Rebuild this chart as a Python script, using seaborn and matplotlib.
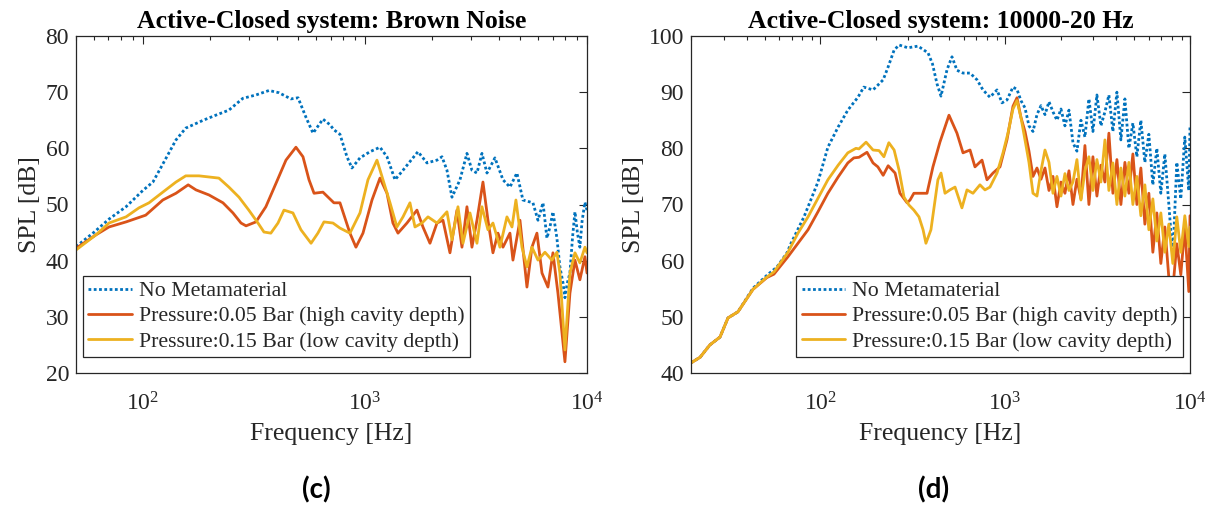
import numpy as np
import pandas as pd
import matplotlib
matplotlib.use("Agg")
import matplotlib.pyplot as plt
from matplotlib.ticker import LogLocator, LogFormatterSciNotation, NullFormatter, MultipleLocator
import seaborn as sns

# ---------------- Panel (c): Brown noise ----------------
c_blue_f = [50, 60, 70.4, 84, 100, 111, 123, 141, 156, 187, 213, 244, 282, 323, 370, 410, 464, 500,
            543, 584, 647, 696, 725, 772, 830, 874, 950, 1054, 1169, 1257, 1366, 1484, 1645, 1733,
            1903, 2111, 2223, 2341, 2466, 2679, 2880, 3033, 3195, 3365, 3545, 3850, 4184, 4498, 4835,
            5146, 5709, 6015, 6337, 6600, 6811, 7025, 7320, 7550, 7800, 7955, 8150, 8377, 8600, 8825,
            9050, 9290, 9500, 9787, 10000]
c_blue_db = [42.5, 45, 47.4, 49.6, 52.5, 54, 57.2, 61.5, 63.6, 65, 65.9, 66.8, 68.9, 69.5, 70.3, 69.9,
             68.8, 69, 65.5, 62.7, 65.2, 64.2, 63.3, 62.5, 58.5, 56.5, 58.3, 59.4, 60.2, 58.5, 54.4,
             56.1, 58.3, 59.4, 57.4, 57.9, 58.5, 56.1, 51.3, 54.4, 59.1, 56.1, 55.6, 59.1, 55.6, 58.3,
             54.4, 53.1, 55.6, 50.8, 50.3, 47.2, 50.3, 44, 46, 48.7, 44, 38.9, 36, 33.4, 36, 37.8, 44,
             48.7, 45, 42.4, 47, 50.4, 49]

c_red_f = [50, 61.5, 70.4, 84, 103, 123, 141, 160, 173.5, 198.5, 229.5, 254.5, 276.7, 291.5, 323, 358,
           398, 441, 489, 526, 560, 590, 647, 725, 772, 856, 911, 980, 1076, 1169, 1257, 1337, 1409,
           1546, 1715, 1825, 1963, 2111, 2246, 2415, 2597, 2735, 2880, 3033, 3195, 3400, 3581, 3771,
           3972, 4184, 4498, 4640, 4990, 5365, 5650, 5950, 6270, 6670, 7025, 7400, 7955, 8377, 8825,
           9290, 9787, 10000]
c_red_db = [42.2, 44.6, 46, 46.9, 48.1, 50.8, 52, 53.5, 52.6, 51.7, 50.3, 48.5, 46.7, 46.2, 46.9, 49.6,
            53.8, 57.9, 60.2, 58.5, 54.4, 52, 52.2, 50.3, 50.3, 44.9, 42.4, 44.9, 50.8, 54.7, 52, 46.7,
            44.9, 46.7, 49, 46, 43.1, 46.7, 47.2, 41.4, 49, 42.4, 49.6, 42.4, 47.2, 54, 47.2, 41.4,
            44.9, 42.4, 44.9, 40.1, 47.2, 35.3, 42.4, 44.9, 37.8, 35.3, 41.4, 34.2, 22, 34.2, 40.1,
            36.6, 40.7, 37.8]

c_yel_f = [50, 61.5, 70.4, 84, 96, 106.6, 123, 141, 156, 179, 198.5, 220, 244, 271, 300, 330, 351, 377,
           406, 432, 474, 515, 572, 614, 654, 718, 772, 856, 950, 1032, 1133, 1206, 1297, 1393, 1484,
           1595, 1680, 1807, 1923, 2111, 2341, 2466, 2624, 2764, 2972, 3195, 3365, 3581, 3771, 4055,
           4360, 4594, 4786, 5095, 5365, 5650, 6015, 6466, 6951, 7320, 7550, 7955, 8377, 8825, 9290,
           9787, 10000]
c_yel_db = [41.9, 44.6, 46.7, 47.8, 49.4, 50.3, 52.2, 54, 55.1, 55.1, 54.9, 54.7, 53.1, 51.3, 49, 46.7,
            45.1, 44.9, 46.7, 49, 48.5, 45.5, 43.1, 44.9, 46.9, 46.7, 45.8, 44.9, 48.5, 54.4, 57.9,
            54.4, 50.3, 46, 47.8, 50.3, 46, 46.7, 47.8, 46.7, 48.7, 43.7, 49.6, 43.1, 48.5, 43.1, 49.6,
            45.5, 46.7, 42.4, 47.8, 46, 50.8, 42.4, 38.9, 42.4, 40.1, 41.5, 40.1, 41.5, 37.8, 24.1,
            37.8, 41.4, 39.6, 42.4, 41.4]

# ---------------- Panel (d): 10000-20 Hz sweep ----------------
# low band (20 Hz - 1 kHz), one list per measurement
d_blue_f_low = [20, 22.4, 25.3, 28.7, 31.7, 35.9, 43.3, 51.5, 58.4, 66.1, 69.5, 81.7, 97.2, 110, 125,
                141, 160, 172, 193, 219, 233, 251, 267, 298, 338, 383, 405, 428, 450, 485, 516, 549,
                592, 646, 705, 759, 828, 904, 962, 1023]
d_blue_db_low = [41.8, 42.8, 45, 46.4, 49.8, 50.9, 55.1, 57.4, 58.9, 61.4, 63.1, 67.8, 74, 80.2, 83.8,
                 86.8, 89.1, 90.9, 90.4, 92.2, 94.5, 97.5, 98.4, 97.9, 98.2, 97, 95, 91.5, 89.3, 94,
                 96.3, 93.9, 93.4, 93.4, 92.2, 90.4, 89.1, 90.4, 88.1, 88.6]

d_red_f_low = [20, 22.4, 25.3, 28.7, 31.7, 35.9, 43.3, 51.5, 56.2, 66.9, 75.8, 85.9, 97.2, 110, 125,
               141, 152, 162, 179, 193, 205, 219, 233, 254, 270, 295, 306, 321, 346, 378, 407, 444,
               497, 549, 592, 646, 687, 750, 798, 860, 938, 1023]
d_red_db_low = [41.8, 42.8, 45, 46.4, 49.8, 50.9, 54.9, 57, 57.6, 60.7, 63.1, 65.5, 68.7, 72, 74.9,
                77.4, 78.3, 78.4, 79.3, 77.4, 76.7, 75.2, 76.9, 75.6, 72, 70.3, 70.8, 72, 72, 72,
                76.7, 81.1, 85.9, 82.7, 79.2, 79.7, 76.7, 77.9, 74.4, 75.6, 76.7, 81.5]

d_yel_f_low = [20, 22.4, 25.3, 28.7, 31.7, 35.9, 43.3, 51.5, 56.2, 66.9, 75.8, 85.9, 97.2, 110, 125,
               141, 156, 162, 177, 193, 208, 221, 235, 251, 267, 284, 302, 321, 342, 360, 373, 397,
               433, 450, 473, 503, 536, 584, 622, 670, 731, 778, 828, 904, 974, 1036]
d_yel_db_low = [41.8, 42.8, 45, 46.4, 49.8, 50.9, 54.9, 57.1, 58, 61.5, 64.9, 67.8, 71.1, 74.4, 77,
                79.2, 80, 79.9, 81.1, 79.7, 79.6, 78.5, 81, 79.7, 76.1, 71.3, 69.9, 69, 67.8, 65.5,
                63.1, 65.5, 74.4, 75.6, 72, 72.6, 73.1, 69.4, 72.6, 72, 73.5, 72.6, 73.1, 75.6, 79.2,
                82.7]

# high band (1.1 - 10 kHz), shared frequency grid
d_f_high = [1103, 1159, 1218, 1281, 1346, 1415, 1487, 1563, 1643, 1727, 1815, 1907, 2005, 2107, 2215,
            2328, 2446, 2571, 2702, 2840, 2985, 3137, 3297, 3466, 3642, 3828, 4024, 4229, 4445, 4671,
            4910, 5160, 5423, 5700, 5991, 6296, 6617, 6955, 7310, 7683, 8075, 8486, 8919, 9374, 9852,
            10000]
d_blue_db_high = [90.9, 90.5, 88.5, 87.2, 84.0, 83.0, 86.0, 87.6, 86.0, 88.3, 86.5, 85.0, 87.0, 84.0,
                  86.8, 81.0, 79.5, 85.0, 82.0, 88.8, 83.0, 89.5, 84.0, 86.5, 89.5, 83.0, 90.0, 81.5,
                  88.8, 80.0, 84.5, 78.5, 85.0, 77.5, 82.5, 73.5, 80.0, 72.0, 79.0, 70.0, 60.5, 77.5,
                  71.0, 82.0, 72.5, 84.0]
d_red_db_high = [87.5, 89.0, 85.5, 83.0, 79.5, 75.0, 76.5, 74.5, 76.5, 72.5, 75.0, 69.6, 74.0, 72.0,
                 76.0, 70.0, 74.5, 71.0, 80.5, 70.0, 78.5, 71.5, 77.0, 74.0, 82.7, 72.0, 78.0, 70.0,
                 77.5, 72.0, 79.0, 70.0, 76.5, 66.5, 72.0, 61.5, 68.5, 59.5, 66.0, 57.0, 55.0, 63.0,
                 57.5, 66.0, 54.5, 68.0]
d_yel_db_high = [87.0, 88.5, 85.5, 81.5, 77.5, 72.0, 71.5, 76.0, 79.7, 77.5, 72.0, 75.0, 71.5, 75.5,
                 72.5, 74.0, 78.0, 70.8, 76.0, 78.5, 72.5, 78.0, 74.0, 81.5, 72.5, 77.4, 70.0, 76.5,
                 71.5, 77.5, 70.0, 75.0, 68.0, 73.5, 65.5, 71.0, 63.5, 68.5, 61.5, 66.5, 59.5, 67.8,
                 61.5, 68.0, 62.5, 66.0]

series_labels = ["No Metamaterial",
                 "Pressure:0.05 Bar (high cavity depth)",
                 "Pressure:0.15 Bar (low cavity depth)"]
titles = ["Active-Closed system: Brown Noise", "Active-Closed system: 10000-20 Hz"]
panel_tags = ["(c)", "(d)"]

colors = ["#0072BD", "#D95319", "#EDB120"]
styles = [(0, (1.0, 0.9)), "-", "-"]

sns.set_theme(style="white")
plt.rcParams["font.family"] = ["Liberation Serif", "DejaVu Serif"]
plt.rcParams["mathtext.fontset"] = "custom"
plt.rcParams["mathtext.rm"] = "Liberation Serif"
plt.rcParams["mathtext.it"] = "Liberation Serif:italic"
plt.rcParams["mathtext.bf"] = "Liberation Serif:bold"

axis_gray = "#262626"

fig = plt.figure(figsize=(12.13, 5.08), dpi=100)
ax_c = fig.add_axes([76 / 1213, 1 - 373 / 508, 511 / 1213, 337 / 508])
ax_d = fig.add_axes([691 / 1213, 1 - 373 / 508, 499 / 1213, 337 / 508])

curves_d = [
    (d_blue_f_low + d_f_high, d_blue_db_low + d_blue_db_high),
    (d_red_f_low + d_f_high, d_red_db_low + d_red_db_high),
    (d_yel_f_low + d_f_high, d_yel_db_low + d_yel_db_high),
]

panels = [
    (ax_c, [(c_blue_f, c_blue_db), (c_red_f, c_red_db), (c_yel_f, c_yel_db)], (50, 1e4), (20, 80)),
    (ax_d, curves_d, (20, 1e4), (40, 100)),
]

for i, (ax, curves, xlim, ylim) in enumerate(panels):
    for (f, db), lab, col, ls in zip(curves, series_labels, colors, styles):
        df = pd.DataFrame({"Frequency": f, "SPL": db})
        sns.lineplot(data=df, x="Frequency", y="SPL", ax=ax, color=col, linestyle=ls,
                     linewidth=2.0, label=lab, estimator=None, sort=True, legend=False)
    ax.set_xscale("log")
    ax.set_xlim(*xlim)
    ax.set_ylim(*ylim)
    ax.yaxis.set_major_locator(MultipleLocator(10))
    ax.xaxis.set_major_locator(LogLocator(base=10, numticks=10))
    ax.xaxis.set_minor_locator(LogLocator(base=10, subs=np.arange(2, 10), numticks=20))
    ax.xaxis.set_major_formatter(LogFormatterSciNotation())
    ax.xaxis.set_minor_formatter(NullFormatter())
    ax.tick_params(which="both", direction="in", top=True, right=True, colors=axis_gray,
                   labelsize=17, width=0.8)
    ax.tick_params(which="major", length=6)
    ax.tick_params(which="minor", length=3)
    ax.tick_params(axis="x", which="major", pad=14)
    ax.tick_params(axis="y", which="major", pad=5)
    for sp in ax.spines.values():
        sp.set_color(axis_gray)
        sp.set_linewidth(0.9)
    ax.set_xlabel("Frequency [Hz]", fontsize=18.5, color=axis_gray, labelpad=5)
    ax.set_ylabel("SPL [dB]", fontsize=18.5, color=axis_gray, labelpad=3)
    ax.set_title(titles[i], fontsize=18.5, fontweight="bold", color="black", pad=6)

    handles, labels = ax.get_legend_handles_labels()
    anchor = (0.0137, 0.0475) if i == 0 else (0.986, 0.0475)
    loc = "lower left" if i == 0 else "lower right"
    leg = ax.legend(handles, labels, loc=loc, bbox_to_anchor=anchor, borderaxespad=0,
                    fontsize=15.7, handlelength=2.0, handletextpad=0.3, labelspacing=0.22,
                    borderpad=0.25, fancybox=False, framealpha=1, edgecolor=axis_gray)
    leg.get_frame().set_linewidth(0.9)
    for t in leg.get_texts():
        t.set_color(axis_gray)

for tag, xc in zip(panel_tags, [316, 934]):
    fig.text(xc / 1213, 1 - 490 / 508, tag, ha="center", va="center",
             fontsize=20, fontweight="bold", family=["Lato", "DejaVu Sans"], color="black")

fig.savefig("out.png", dpi=100, facecolor="white")
